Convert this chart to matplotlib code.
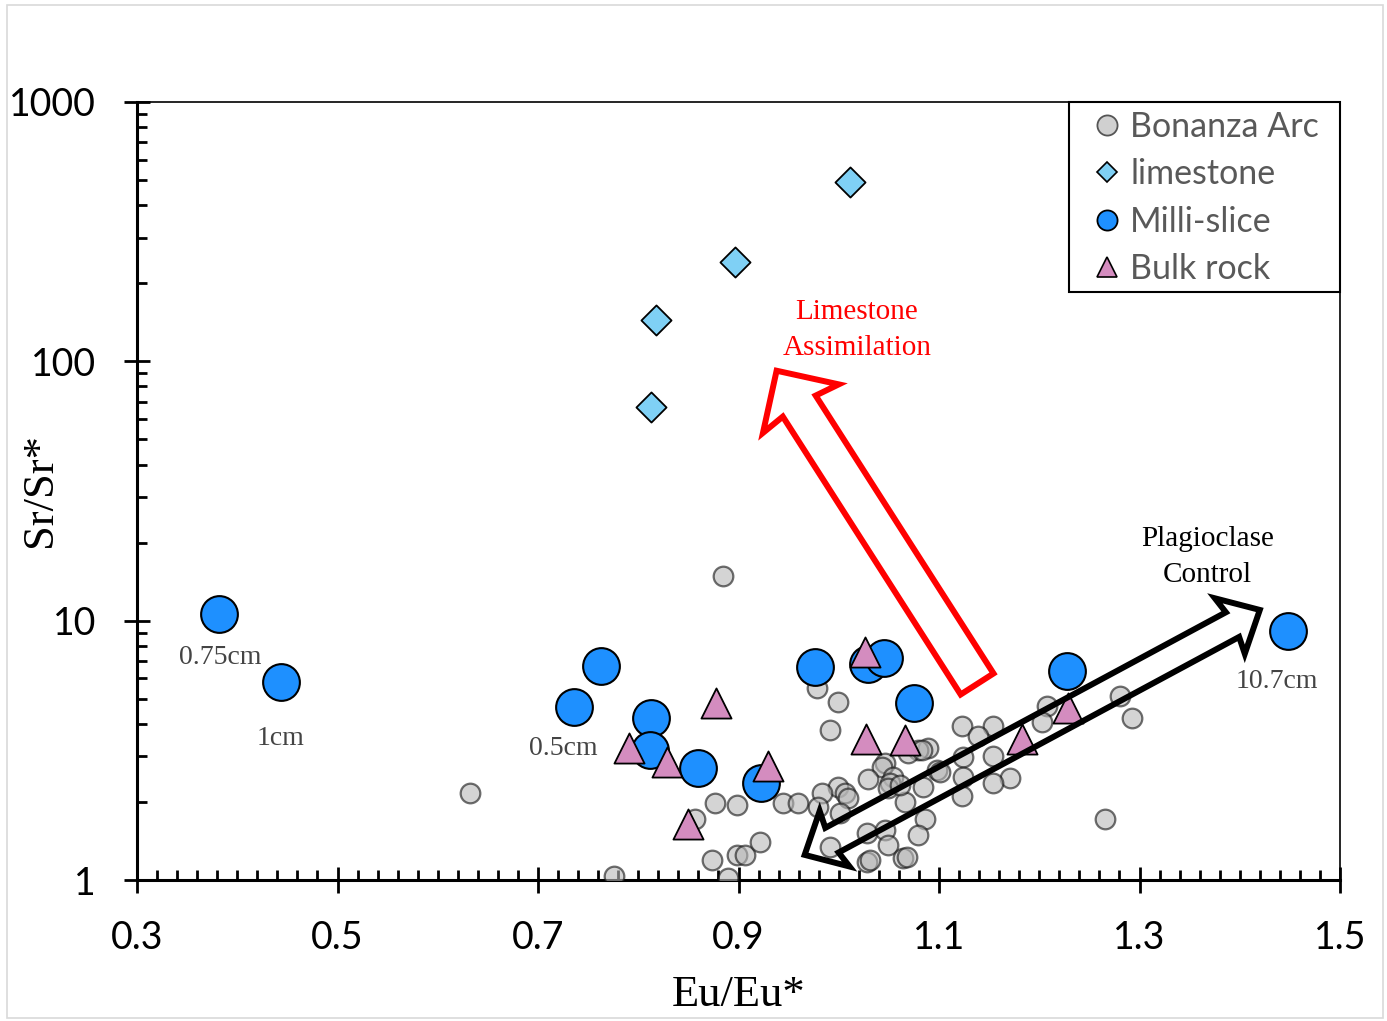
import numpy as np
import matplotlib
matplotlib.use('Agg')
import matplotlib.pyplot as plt
from matplotlib.lines import Line2D
from matplotlib.patches import Polygon, Rectangle
from matplotlib.ticker import FixedLocator, MultipleLocator, LogLocator, NullFormatter, FixedFormatter

# ---------------- data ----------------
bonanza_eu = [0.632, 0.776, 0.885, 0.857, 0.877, 0.899, 0.944, 0.959, 0.874, 0.899,
              0.906, 0.921, 0.890, 0.978, 0.999, 0.991, 1.123, 1.154, 1.139, 1.089,
              1.079, 1.069, 1.124, 1.154, 1.098, 1.101, 1.046, 1.043, 1.029, 1.054,
              1.051, 1.124, 1.171, 1.154, 1.084, 0.999, 1.006, 1.009, 0.983, 0.979,
              1.123, 1.066, 1.001, 1.086, 1.028, 1.046, 1.079, 0.991, 1.049, 1.028,
              1.031, 1.064, 1.068, 1.208, 1.203, 1.281, 1.293, 1.266, 1.083, 1.049, 1.061]
bonanza_sr = [2.17, 1.04, 14.9, 1.72, 1.98, 1.95, 1.98, 1.98, 1.19, 1.25,
              1.25, 1.40, 1.02, 5.50, 4.86, 3.79, 3.93, 3.93, 3.59, 3.23,
              3.17, 3.09, 2.98, 3.01, 2.66, 2.61, 2.83, 2.73, 2.45, 2.50,
              2.37, 2.50, 2.47, 2.37, 2.28, 2.28, 2.17, 2.07, 2.17, 1.91,
              2.11, 2.00, 1.81, 1.72, 1.52, 1.56, 1.49, 1.34, 1.36, 1.17,
              1.19, 1.22, 1.23, 4.69, 4.07, 5.13, 4.22, 1.72, 3.17, 2.26, 2.32]

limestone_eu = [1.011, 0.897, 0.818, 0.813]
limestone_sr = [492, 242, 144, 66.7]

milli_eu = [0.382, 0.444, 0.736, 0.763, 0.813, 0.812, 0.860, 0.922, 0.976, 1.029,
            1.045, 1.075, 1.228, 1.448]
milli_sr = [10.6, 5.80, 4.65, 6.69, 4.21, 3.17, 2.70, 2.37, 6.63, 6.81,
            7.18, 4.82, 6.40, 9.13]

bulk_eu = [0.878, 0.791, 0.829, 0.929, 0.850, 1.026, 1.027, 1.066, 1.183, 1.229]
bulk_sr = [4.82, 3.23, 2.85, 2.75, 1.64, 7.57, 3.50, 3.46, 3.50, 4.61]

series_names = ["Bonanza Arc", "limestone", "Milli-slice", "Bulk rock"]

slice_labels = ["0.75cm", "1cm", "0.5cm", "10.7cm"]
slice_label_x = [0.383, 0.443, 0.725, 1.437]
slice_label_y = [7.19, 3.50, 3.20, 5.85]

x_ticks = [0.3, 0.5, 0.7, 0.9, 1.1, 1.3, 1.5]
x_tick_labels = ["0.3", "0.5", "0.7", "0.9", "1.1", "1.3", "1.5"]
y_ticks = [1, 10, 100, 1000]
y_tick_labels = ["1", "10", "100", "1000"]

# ---------------- figure ----------------
W, H = 1387, 1021
DPI = 100
fig = plt.figure(figsize=(W / DPI, H / DPI), dpi=DPI)
fig.patch.set_facecolor('white')
fig.patches.append(Rectangle((7 / W, 3 / H), (1383 - 7) / W, (1016 - 3) / H,
                             transform=fig.transFigure, fill=False,
                             edgecolor='#d9d9d9', lw=1.2))

AX_L, AX_R, AX_T, AX_B = 137, 1340, 102, 880
ax = fig.add_axes([AX_L / W, (H - AX_B) / H, (AX_R - AX_L) / W, (AX_B - AX_T) / H])
ax.set_yscale('log')
ax.set_xlim(0.3, 1.5)
ax.set_ylim(1, 1000)

TICKFONT = 'Lato'
SERIF = 'Liberation Serif'

# ticks
ax.xaxis.set_major_locator(FixedLocator(x_ticks))
ax.xaxis.set_major_formatter(FixedFormatter(x_tick_labels))
ax.xaxis.set_minor_locator(MultipleLocator(0.02))
ax.yaxis.set_major_locator(FixedLocator(y_ticks))
ax.yaxis.set_major_formatter(FixedFormatter(y_tick_labels))
ax.yaxis.set_minor_locator(LogLocator(base=10, subs=np.arange(2, 10)))
ax.yaxis.set_minor_formatter(NullFormatter())

ax.tick_params(which='major', direction='inout', length=19, width=2.0,
               labelsize=27)
ax.tick_params(which='minor', direction='in', length=7, width=2.0)
ax.tick_params(axis='y', which='major', pad=20)
ax.tick_params(axis='x', which='major', pad=19.5)
for lab in ax.get_xticklabels() + ax.get_yticklabels():
    lab.set_fontfamily(TICKFONT)

for s in ['left', 'bottom']:
    ax.spines[s].set_linewidth(2.2)
for s in ['top', 'right']:
    ax.spines[s].set_linewidth(1.2)

ax.set_xlabel("Eu/Eu*", fontfamily=SERIF, fontsize=32, va='center')
ax.xaxis.set_label_coords(0.5, (AX_B - 995) / (AX_B - AX_T))
ax.set_ylabel("Sr/Sr*", fontfamily=SERIF, fontsize=32, va='center')
ax.yaxis.set_label_coords((40 - AX_L) / (AX_R - AX_L), (AX_B - 490) / (AX_B - AX_T))

# ---------------- points ----------------
ax.scatter(bonanza_eu, bonanza_sr, s=200, facecolor='#b8b8b8', edgecolor='#111111',
           linewidths=1.6, alpha=0.6, zorder=3)
ax.scatter(limestone_eu, limestone_sr, marker='D', s=235, facecolor='#7fd0f5',
           edgecolor='black', linewidths=1.3, zorder=4)
ax.scatter(milli_eu, milli_sr, s=700, facecolor='#1e90ff', edgecolor='black',
           linewidths=1.5, zorder=4)
ax.scatter(bulk_eu, bulk_sr, marker='^', s=470, facecolor='#d48cbf',
           edgecolor='black', linewidths=1.3, zorder=5)

# ---------------- labels ----------------
for t, x, y in zip(slice_labels, slice_label_x, slice_label_y):
    ax.text(x, y, t, fontfamily=SERIF, fontsize=20, color='#444444',
            ha='center', va='center', zorder=6)

ax.text(1.018, 132.2, "Limestone\nAssimilation", fontfamily=SERIF, fontsize=21,
        color='red', ha='center', va='center', linespacing=1.48, zorder=6)
ax.text(1.368, 17.6, "Plagioclase\nControl", fontfamily=SERIF, fontsize=21,
        color='black', ha='center', va='center', linespacing=1.48, zorder=6)


# ---------------- block arrows ----------------
def block_arrow(ax, start, end, shaft_w, head_w, head_len, notch, double, color, lw):
    sc = fig.dpi / 100.0
    T = ax.transData
    p0 = np.array(T.transform(start))
    p1 = np.array(T.transform(end))
    d = p1 - p0
    u = d / np.hypot(*d)
    n = np.array([-u[1], u[0]])
    sw, hw, hl, nt = shaft_w * sc / 2, head_w * sc / 2, head_len * sc, notch * sc

    def head(tip, dirv, side_sign):
        base = tip - dirv * hl
        sh = tip - dirv * (hl - nt)
        return [sh + side_sign * n * sw, base + side_sign * n * hw, tip,
                base - side_sign * n * hw, sh - side_sign * n * sw]

    pts = []
    if double:
        pts += head(p1, u, 1)
        pts += head(p0, -u, -1)
    else:
        pts += [p0 + n * sw]
        pts += head(p1, u, 1)
        pts += [p0 - n * sw]
    pts = np.array(pts)
    data_pts = T.inverted().transform(pts)
    ax.add_patch(Polygon(data_pts, closed=True, fill=False, edgecolor=color,
                         lw=lw, joinstyle='miter', zorder=7))


block_arrow(ax, (1.138, 5.70), (0.938, 92.0), 39, 90, 45, 3, False, 'red', 4.3)
block_arrow(ax, (0.966, 1.25), (1.420, 11.0), 28, 63, 34, 3, True, 'black', 4.3)

# ---------------- legend ----------------
def axfrac(px, py):
    return ((px - AX_L) / (AX_R - AX_L), (AX_B - py) / (AX_B - AX_T))

lx0, ly0 = axfrac(1069, 292)
lx1, ly1 = axfrac(1340, 102)
ax.add_patch(Rectangle((lx0, ly0), lx1 - lx0, ly1 - ly0, transform=ax.transAxes,
                       facecolor='white', edgecolor='black', lw=1.5, zorder=8,
                       clip_on=False))

handles = [
    Line2D([], [], ls='none', marker='o', markersize=14.5, markerfacecolor='#d0d0d0',
           markeredgecolor='#555555', markeredgewidth=1.3),
    Line2D([], [], ls='none', marker='D', markersize=10.5, markerfacecolor='#7fd0f5',
           markeredgecolor='black', markeredgewidth=1.2),
    Line2D([], [], ls='none', marker='o', markersize=14.5, markerfacecolor='#1e90ff',
           markeredgecolor='black', markeredgewidth=1.3),
    Line2D([], [], ls='none', marker='^', markersize=14.5, markerfacecolor='#d48cbf',
           markeredgecolor='black', markeredgewidth=1.2),
]
leg = ax.legend(handles, series_names, loc='upper left', bbox_to_anchor=axfrac(1096, 111),
                borderaxespad=0, frameon=False, prop={'family': TICKFONT, 'size': 24.5},
                handlelength=0.65, handletextpad=0.35, labelspacing=0.45,
                borderpad=0.0, labelcolor='#595959')
leg.set_zorder(9)

fig.savefig('out.png', dpi=DPI, facecolor='white')
